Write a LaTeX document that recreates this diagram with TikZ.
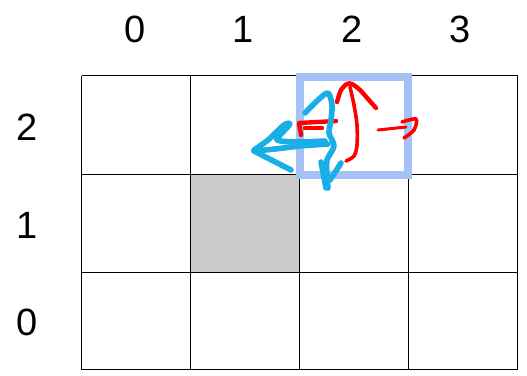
\documentclass[tikz,border=0pt]{standalone}
\usepackage{fontspec}
\setmainfont{Liberation Sans}
\begin{document}
\begin{tikzpicture}[x=1pt,y=-1pt,
  gridline/.style={line width=1.6pt,black},
  lbl/.style={font=\fontsize{38}{40}\selectfont,inner sep=0pt,anchor=center},
  hilite/.style={draw=hiblue,line width=8pt},
  bluestroke/.style={draw=scrblue,line width=5.6pt,line cap=round,line join=round},
  redstroke/.style={draw=red,line width=4.4pt,line cap=round,line join=round}]
\definecolor{hiblue}{HTML}{A4C2F4}
\definecolor{scrblue}{HTML}{1AAEE6}
\definecolor{cellgray}{HTML}{CCCCCC}
\useasboundingbox (0,0) rectangle (527,375);
% shaded cell
\fill[cellgray] (190.5,174.5) rectangle (299.5,272.5);
% grid
\foreach \x in {81.5,190.5,299.5,408.5,517.5}
  \draw[gridline] (\x,75.5) -- (\x,369.5);
\foreach \y in {75.5,174.5,272.5,369.5}
  \draw[gridline] (81.5,\y) -- (517.5,\y);
% column labels
\node[lbl] (c0) at (135,29) {0};
\node[lbl] (c1) at (243,29) {1};
\node[lbl] (c2) at (352,29) {2};
\node[lbl] (c3) at (460,29) {3};
% row labels
\node[lbl] (r2) at (27,127) {2};
\node[lbl] (r1) at (27,225) {1};
\node[lbl] (r0) at (27,322) {0};
% highlight
\draw[hilite] (300,77) rectangle (408,175);
% red scribbles
\draw[redstroke] (301,135) -- (299,123) -- (336,121);
\draw[redstroke] (305,128) -- (322,128);
\draw[redstroke] plot[smooth] coordinates {(337,102) (341,90) (347,84) (352,84) (360,90) (368,99) (376,108)};
\draw[redstroke,line width=3.6pt] plot[smooth] coordinates {(350,87) (354,105) (357,125) (357,145) (354,156) (346,161)};
\draw[redstroke,line width=3pt] (378,130) -- (406,127);
\draw[redstroke,line width=3.6pt] plot[smooth] coordinates {(402,122) (416,119) (414,130) (404,138)};
% blue scribbles
\draw[bluestroke] plot[smooth] coordinates {(305,113) (318,100) (328,93) (332,105) (331,120) (329,133) (334,146) (327,160) (327,175) (328,188)};
\draw[bluestroke] (321,162) -- (326,188);
\draw[bluestroke] (341,163) -- (330,180);
\draw[bluestroke] plot[smooth] coordinates {(328,144) (300,146) (275,149) (254,151)};
\draw[bluestroke] plot[smooth] coordinates {(254,150) (268,140) (284,125) (290,124) (282,133) (277,140) (295,142) (325,141)};
\draw[bluestroke] (254,151) -- (291,170);
\end{tikzpicture}
\end{document}
